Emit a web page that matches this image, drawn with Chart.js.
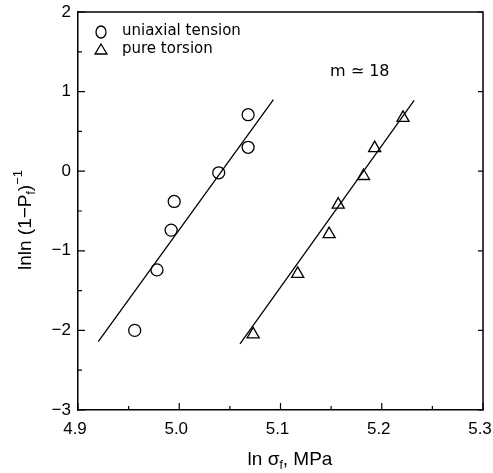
<!DOCTYPE html>
<html>
<head>
<meta charset="utf-8">
<script src="https://cdn.jsdelivr.net/npm/chart.js@4.4.1/dist/chart.umd.min.js"></script>
<style>
html,body{margin:0;padding:0;background:#fff;}
#wrap{width:493px;height:473px;position:relative;}
</style>
</head>
<body>
<div id="wrap"><canvas id="c" width="493" height="473"></canvas></div>
<script>
// ---- data ----
const tensionX = [4.956, 4.978, 4.992, 4.995, 5.039, 5.068, 5.068];
const tensionY = [-2.00, -1.24, -0.74, -0.38, -0.02, 0.30, 0.71];
const torsionX = [5.073, 5.117, 5.148, 5.157, 5.182, 5.193, 5.221];
const torsionY = [-2.05, -1.29, -0.79, -0.42, -0.06, 0.29, 0.67];
const fitTensionX = [4.920, 5.093];
const fitTensionY = [-2.14, 0.90];
const fitTorsionX = [5.060, 5.232];
const fitTorsionY = [-2.17, 0.89];
const xMajorTicks = [4.9, 5.0, 5.1, 5.2, 5.3];
const xMinorTicks = [4.95, 5.05, 5.15, 5.25];
const yMajorTicks = [2, 1, 0, -1, -2, -3];
const yMinorTicks = [1.5, 0.5, -0.5, -1.5, -2.5];
const legendLabels = ['uniaxial tension', 'pure torsion'];
const annotationText = 'm \u2243 18';

function pts(xs, ys){ return xs.map((x,i)=>({x:x, y:ys[i]})); }

const FONT = '"Liberation Sans", Arial, sans-serif';

const decor = {
  id: 'decor',
  afterDraw(chart){
    const ctx = chart.ctx, a = chart.chartArea;
    const xs = chart.scales.x, ys = chart.scales.y;
    ctx.save();
    ctx.strokeStyle = '#000';
    ctx.lineWidth = 1.5;
    // top and right frame
    ctx.beginPath();
    ctx.moveTo(a.left, a.top); ctx.lineTo(a.right, a.top); ctx.lineTo(a.right, a.bottom);
    ctx.stroke();
    // inward ticks
    ctx.lineWidth = 1.2;
    ctx.beginPath();
    xMajorTicks.forEach(v=>{ const p = xs.getPixelForValue(v); ctx.moveTo(p, a.bottom); ctx.lineTo(p, a.bottom-7); });
    xMinorTicks.forEach(v=>{ const p = xs.getPixelForValue(v); ctx.moveTo(p, a.bottom); ctx.lineTo(p, a.bottom-4); });
    yMajorTicks.forEach(v=>{ const p = ys.getPixelForValue(v); ctx.moveTo(a.left, p); ctx.lineTo(a.left+7, p); ctx.moveTo(a.right, p); ctx.lineTo(a.right-5, p); });
    yMinorTicks.forEach(v=>{ const p = ys.getPixelForValue(v); ctx.moveTo(a.left, p); ctx.lineTo(a.left+4, p); });
    ctx.stroke();

    // legend
    ctx.lineWidth = 1.3;
    ctx.beginPath(); ctx.ellipse(101, 32, 5, 6, 0, 0, Math.PI*2); ctx.stroke();
    ctx.beginPath(); ctx.moveTo(101, 44); ctx.lineTo(107, 54); ctx.lineTo(95, 54); ctx.closePath(); ctx.stroke();
    ctx.fillStyle = '#000';
    ctx.font = '15px "DejaVu Sans", sans-serif';
    ctx.textBaseline = 'middle';
    ctx.textAlign = 'left';
    ctx.fillText(legendLabels[0], 122, 31);
    ctx.fillText(legendLabels[1], 122, 49);

    // annotation
    ctx.font = '16px "DejaVu Sans", sans-serif';
    ctx.fillText(annotationText, 330, 72);

    // x title: ln σf, MPa
    ctx.textBaseline = 'alphabetic';
    const xParts = [['ln \u03C3', 19, 0], ['f', 12, 4], [', MPa', 19, 0]];
    let w = 0;
    xParts.forEach(p=>{ ctx.font = p[1]+'px '+FONT; w += ctx.measureText(p[0]).width; });
    let x0 = 290 - w/2;
    xParts.forEach(p=>{ ctx.font = p[1]+'px '+FONT; ctx.fillText(p[0], x0, 465 + p[2]); x0 += ctx.measureText(p[0]).width; });

    // y title: lnln(1−Pf)^−1
    ctx.translate(31, 220);
    ctx.rotate(-Math.PI/2);
    const yParts = [['lnln (1\u2212P', 19, 0], ['f', 12, 4], [')', 19, 0], ['\u22121', 13, -9]];
    w = 0;
    yParts.forEach(p=>{ ctx.font = p[1]+'px '+FONT; w += ctx.measureText(p[0]).width; });
    x0 = -w/2;
    yParts.forEach(p=>{ ctx.font = p[1]+'px '+FONT; ctx.fillText(p[0], x0, p[2]); x0 += ctx.measureText(p[0]).width; });
    ctx.restore();
  }
};

new Chart(document.getElementById('c'), {
  type: 'scatter',
  data: {
    datasets: [
      { label: legendLabels[0], data: pts(tensionX, tensionY), pointStyle: 'circle', pointRadius: 6, borderColor: '#000', backgroundColor: 'rgba(0,0,0,0)', borderWidth: 1.3, showLine: false },
      { label: legendLabels[1], data: pts(torsionX, torsionY), pointStyle: 'triangle', pointRadius: 7, borderColor: '#000', backgroundColor: 'rgba(0,0,0,0)', borderWidth: 1.3, showLine: false },
      { label: 'fit1', data: pts(fitTensionX, fitTensionY), showLine: true, pointRadius: 0, borderColor: '#000', borderWidth: 1.3 },
      { label: 'fit2', data: pts(fitTorsionX, fitTorsionY), showLine: true, pointRadius: 0, borderColor: '#000', borderWidth: 1.3 }
    ]
  },
  options: {
    responsive: false,
    animation: false,
    events: [],
    layout: { padding: { top: 12, right: 10, left: 0, bottom: 0 } },
    plugins: { legend: { display: false }, tooltip: { enabled: false }, title: { display: false } },
    scales: {
      x: {
        type: 'linear', min: 4.9, max: 5.3,
        afterFit(s){ s.height = 63; s.paddingLeft = 0; s.paddingRight = 0; },
        afterBuildTicks(s){ s.ticks = xMajorTicks.map(v=>({value:v})); },
        grid: { display: false, drawTicks: false },
        border: { display: true, color: '#000', width: 1.5 },
        ticks: { padding: 9, labelOffset: -3, color: '#000', font: { family: FONT, size: 17 }, maxRotation: 0, callback: v => v.toFixed(1) }
      },
      y: {
        type: 'linear', min: -3, max: 2,
        afterFit(s){ s.width = 78; s.paddingTop = 0; s.paddingBottom = 0; },
        afterBuildTicks(s){ s.ticks = yMajorTicks.map(v=>({value:v})); },
        grid: { display: false, drawTicks: false },
        border: { display: true, color: '#000', width: 1.5 },
        ticks: { padding: 7, color: '#000', font: { family: FONT, size: 17 }, callback: v => String(v).replace('-', '\u2212') }
      }
    }
  },
  plugins: [decor]
});
</script>
</body>
</html>
